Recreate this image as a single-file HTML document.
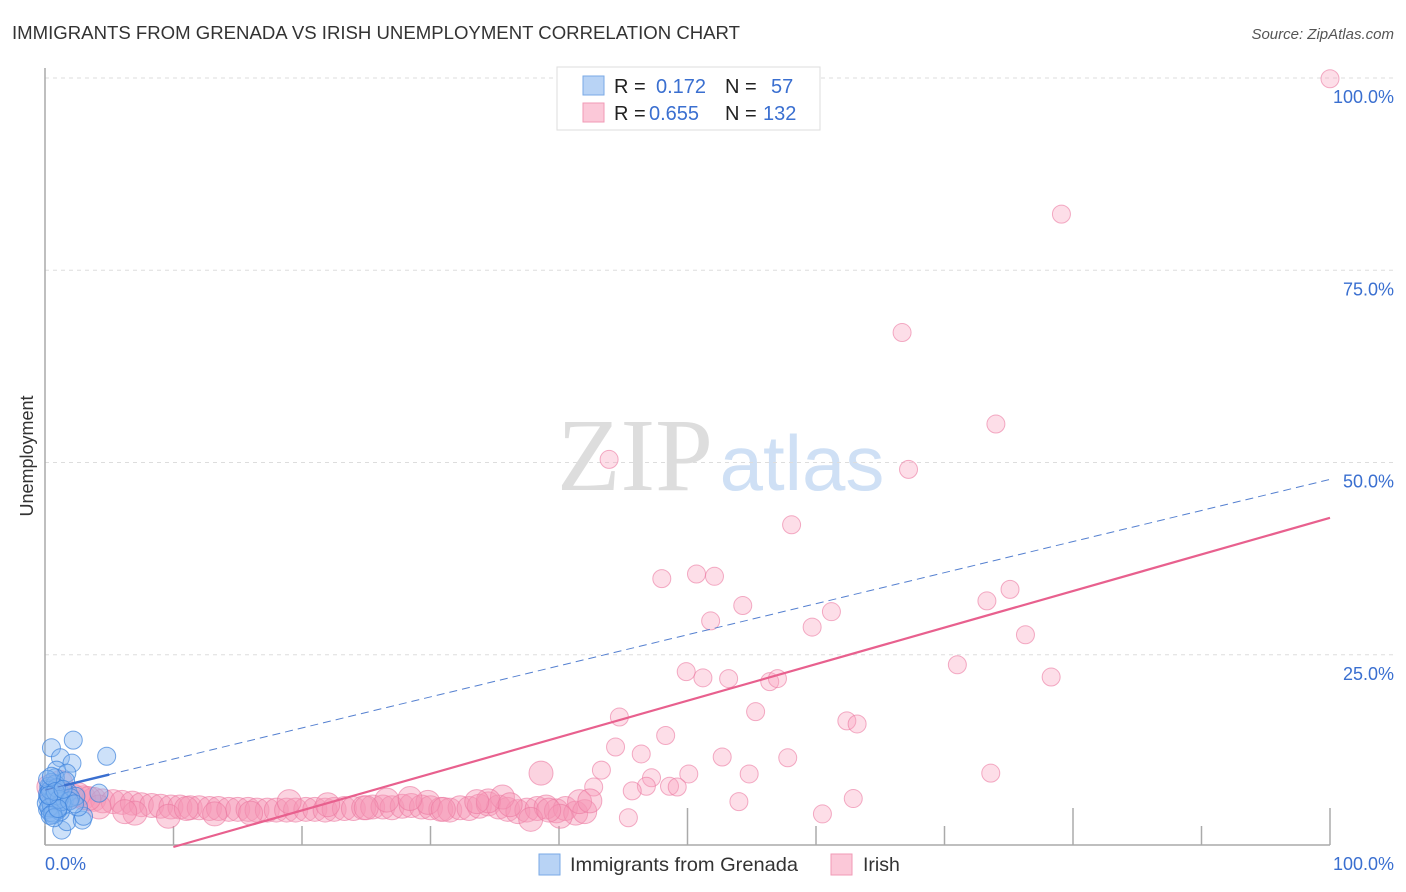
<!DOCTYPE html>
<html><head><meta charset="utf-8">
<style>
body{margin:0;background:#fff;font-family:"Liberation Sans",sans-serif;}
#wrap{position:relative;width:1406px;height:892px;overflow:hidden;}
</style></head>
<body>
<div id="wrap">
<svg id="svg" width="1406" height="892" xmlns="http://www.w3.org/2000/svg">
<text x="12" y="39" font-size="18" fill="#333" textLength="728" lengthAdjust="spacingAndGlyphs">IMMIGRANTS FROM GRENADA VS IRISH UNEMPLOYMENT CORRELATION CHART</text>
<text x="1394" y="39" font-size="15" fill="#555" font-style="italic" text-anchor="end">Source: ZipAtlas.com</text>
<text transform="translate(33,456) rotate(-90)" font-size="18" fill="#333" text-anchor="middle">Unemployment</text>
<g>
<text x="635" y="490" font-size="104" fill="#ddd" font-family="Liberation Serif,serif" text-anchor="middle">ZIP</text>
<text x="802" y="490" font-size="78" fill="#cfe0f5" text-anchor="middle">atlas</text>
</g>
<g id="grid"></g>
<g id="pts"></g>
<g id="lines"></g>
<g>
<rect x="557" y="67" width="263" height="63" fill="#fff" stroke="#ddd"/>
<rect x="583" y="76" width="21" height="19" fill="#b8d3f5" stroke="#7aa9e6"/>
<rect x="583" y="103" width="21" height="19" fill="#fbc8d8" stroke="#f09ab6"/>
<text x="614" y="93" font-size="20" fill="#222">R = </text><text x="656" y="93" font-size="20" fill="#3a6fd0">0.172</text>
<text x="725" y="93" font-size="20" fill="#222">N = </text><text x="771" y="93" font-size="20" fill="#3a6fd0">57</text>
<text x="614" y="120" font-size="20" fill="#222">R = </text><text x="649" y="120" font-size="20" fill="#3a6fd0">0.655</text>
<text x="725" y="120" font-size="20" fill="#222">N = </text><text x="763" y="120" font-size="20" fill="#3a6fd0">132</text>
</g>
<g>
<rect x="539" y="854" width="21" height="21" fill="#b8d3f5" stroke="#7aa9e6"/>
<text x="570" y="871" font-size="19.5" fill="#333" textLength="228" lengthAdjust="spacingAndGlyphs">Immigrants from Grenada</text>
<rect x="831" y="854" width="21" height="21" fill="#fbc8d8" stroke="#f09ab6"/>
<text x="863" y="871" font-size="19.5" fill="#333">Irish</text>
</g>
<text x="45" y="870" font-size="18" fill="#3a6fd0">0.0%</text>
<text x="1394" y="870" font-size="18" fill="#3a6fd0" text-anchor="end">100.0%</text>
</svg>
</div>
<script>
const yTicks=[25,50,75,100];
const yTickLabels=["25.0%","50.0%","75.0%","100.0%"];
const xTicks=[0,10,20,30,40,50,60,70,80,90,100];
const blueX=[0.5,2.2,4.8,1.2,2.1,0.9,1.7,0.8,0.5,0.3,1.3,1.7,2.9,3.0,2.6,0.4,0.6,1.0,1.5,0.2,0.3,0.7,1.1,1.8,2.4,0.4,0.9,1.4,0.2,0.6,1.2,2.0,0.3,0.8,1.6,0.1,0.5,1.0,0.2,0.7,1.3,0.4,0.9,0.3,0.6,1.1,0.2,0.5,0.8,1.9,2.3,0.4,0.7,1.0,0.3,1.4,4.2];
const blueY=[12.9,13.9,11.8,11.6,10.9,10.0,9.6,9.0,8.4,7.6,2.2,3.3,3.5,4.0,5.2,4.5,5.0,5.5,6.0,6.3,6.8,7.0,7.3,7.1,6.6,5.8,6.1,5.4,4.9,4.2,4.6,6.4,7.9,8.2,8.6,5.7,5.3,4.8,6.9,6.5,5.9,7.4,7.7,5.1,4.4,6.2,8.8,9.2,7.2,6.0,5.6,4.1,3.8,5.0,6.7,7.5,7.0];
const pinkX=[100,79.1,66.7,74,67.2,43.9,58.1,48,50.7,52.1,54.3,51.8,59.7,61.2,73.3,75.1,76.3,71,78.3,49.9,51.2,53.2,56.4,57,55.3,44.7,62.4,63.2,48.3,44.4,46.4,52.7,57.8,43.3,50.1,54.8,73.6,47.2,46.8,45.7,48.6,49.2,42.7,54,62.9,60.5,45.4,
0.3,0.8,1.5,2.2,3.0,3.8,4.5,5.3,6.0,6.8,7.5,8.3,9.0,9.8,10.5,11.3,12.0,12.8,13.5,14.3,15.0,15.8,16.5,17.3,18.0,18.8,19.5,20.3,21.0,21.8,22.5,23.3,24.0,24.8,25.5,26.3,27.0,27.8,28.5,29.3,30.0,30.8,31.5,32.3,33.0,33.8,34.5,35.3,36.0,36.8,37.5,38.3,39.0,39.8,40.5,41.3,42.0,37.8,35.6,34.5,29.8,28.4,26.6,19.0,13.2,9.6,7.0,4.2,2.6,1.2,38.6,40.1,41.6,36.2,33.6,31.0,25.0,22.0,16.0,11.0,6.2,3.4,0.6,42.4,39.2];
const pinkY=[99.9,82.3,66.9,55,49.1,50.4,41.9,34.9,35.5,35.2,31.4,29.4,28.6,30.6,32,33.5,27.6,23.7,22.1,22.8,22,21.9,21.5,21.9,17.6,16.9,16.4,16,14.5,13,12.1,11.7,11.6,10,9.5,9.5,9.6,9,7.9,7.3,7.9,7.8,7.8,5.9,6.3,4.3,3.8,
7.8,7.2,6.9,6.6,6.4,6.2,6.0,5.9,5.8,5.7,5.5,5.4,5.3,5.2,5.2,5.1,5.1,5.0,5.0,4.9,4.9,4.9,4.8,4.8,4.8,4.8,4.8,4.9,4.9,4.8,4.9,5.0,5.0,5.1,5.2,5.2,5.1,5.3,5.4,5.2,5.1,4.9,4.8,5.1,5.0,5.3,5.6,5.2,4.9,4.6,4.8,5.0,5.2,4.7,5.0,4.4,4.6,3.6,6.5,6.0,5.8,6.3,6.1,5.9,4.3,4.0,4.4,5.2,6.8,8.4,9.6,4.0,5.9,5.5,5.9,4.9,5.1,5.5,4.4,5.0,4.6,6.3,7.1,6.0,4.8,3.2];
const blueTrend=[7.4,47.8];
const pinkTrend=[-4.75,42.8];
const X0=45,X1=1330,Y0=847,Y100=78;
const xs=v=>X0+(X1-X0)*v/100;
const ys=v=>Y0-(Y0-Y100)*v/100;
const NS="http://www.w3.org/2000/svg";
function mk(t,a,p){const e=document.createElementNS(NS,t);for(const k in a)e.setAttribute(k,a[k]);p.appendChild(e);return e;}
const grid=document.getElementById('grid');
yTicks.forEach((t,i)=>{
 const l=mk('line',{x1:45,x2:1394,y1:ys(t),y2:ys(t),stroke:'#ddd','stroke-dasharray':'4,4'},grid);
 
 
 const tx=mk('text',{x:1394,y:ys(t)+25,'font-size':18,fill:'#3a6fd0','text-anchor':'end'},grid);
 tx.textContent=yTickLabels[i];
 
 
});
const ax=mk('line',{x1:45,x2:1330,y1:845,y2:845,stroke:'#aaa','stroke-width':1.5},grid);


const ay=mk('line',{x1:45,x2:45,y1:68,y2:845,stroke:'#aaa','stroke-width':1.5},grid);


xTicks.forEach(t=>{
 const tall=(t==50||t==80||t==100);
 const l=mk('line',{x1:xs(t),x2:xs(t),y1:tall?808:826,y2:845,stroke:'#aaa','stroke-width':1.5},grid);
 
 
});
const pts=document.getElementById('pts');
pinkX.forEach((v,i)=>{
 const band=i>=47;
 const c=mk('circle',{cx:xs(v),cy:ys(pinkY[i]),r:band?12:9,fill:band?'rgba(245,150,180,0.42)':'rgba(248,160,190,0.35)',stroke:'rgba(235,120,160,0.6)','stroke-width':1},pts);
 
 
});
blueX.forEach((v,i)=>{
 const c=mk('circle',{cx:xs(v),cy:ys(blueY[i]),r:9,fill:'rgba(130,180,240,0.4)',stroke:'rgba(60,130,220,0.7)','stroke-width':1},pts);
 
 
});
const lines=document.getElementById('lines');
const bl=mk('line',{x1:xs(0),y1:ys(blueTrend[0]),x2:xs(100),y2:ys(blueTrend[1]),stroke:'#5580d0','stroke-width':1,'stroke-dasharray':'8,5'},lines);


const bs=mk('line',{x1:xs(1.5),y1:ys(blueTrend[0]+0.404*1.5),x2:xs(5),y2:ys(blueTrend[0]+0.404*5),stroke:'#3a6fd0','stroke-width':2.5},lines);


const x0=-pinkTrend[0]/((pinkTrend[1]-pinkTrend[0])/100);
const pl=mk('line',{x1:xs(x0),y1:ys(0),x2:xs(100),y2:ys(pinkTrend[1]),stroke:'#e8608e','stroke-width':2.2},lines);


</script>
</body></html>
